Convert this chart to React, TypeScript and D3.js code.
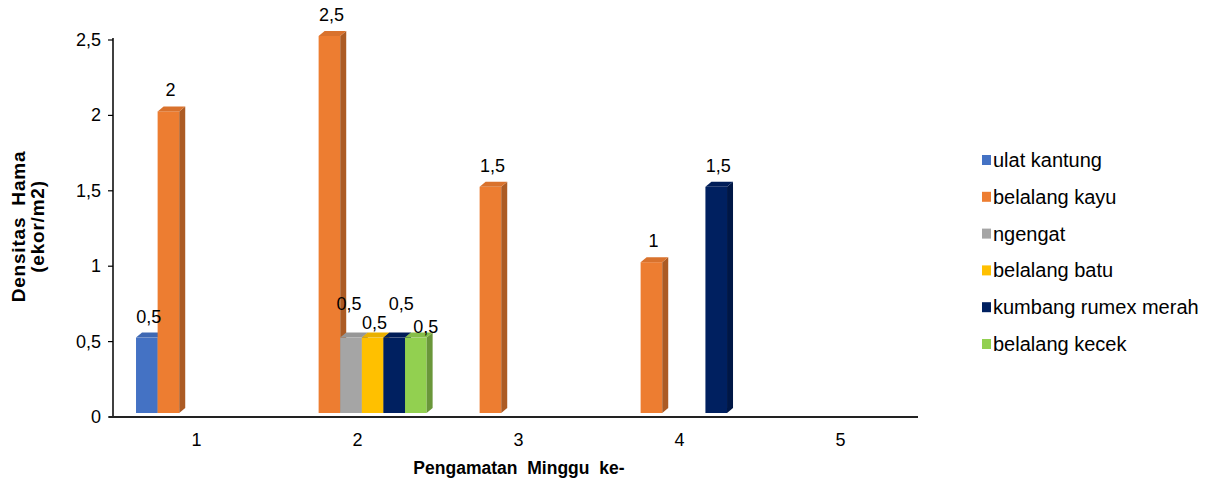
import React from "react";
import * as d3 from "d3";

const categories = ["1", "2", "3", "4", "5"];
const seriesNames = [
  "ulat kantung",
  "belalang kayu",
  "ngengat",
  "belalang batu",
  "kumbang rumex merah",
  "belalang kecek",
];
const ulatKantung = [0.5, 0, 0, 0, 0];
const belalangKayu = [2, 2.5, 1.5, 1, 0];
const ngengat = [0, 0.5, 0, 0, 0];
const belalangBatu = [0, 0.5, 0, 0, 0];
const kumbangRumexMerah = [0, 0.5, 0, 1.5, 0];
const belalangKecek = [0, 0.5, 0, 0, 0];
const seriesValues = [ulatKantung, belalangKayu, ngengat, belalangBatu, kumbangRumexMerah, belalangKecek];
const seriesColors = ["#4472C4", "#ED7D31", "#A5A5A5", "#FFC000", "#002060", "#92D050"];
const yTicks = [0, 0.5, 1, 1.5, 2, 2.5];
const yTickLabels = ["0", "0,5", "1", "1,5", "2", "2,5"];

// manual nudges for overlapping data labels [series, category, dx, dy]
const labelNudges: [number, number, number, number][] = [
  [2, 1, -4, -13],
  [3, 1, 0, 6],
  [4, 1, 5, -13],
  [5, 1, 8, 10],
];

const W = 1211;
const H = 482;
const left = 113;
const right = 918;
const top = 40;
const bottom = 417;
const depthX = 6;
const depthY = 5;
const wallLift = 4;
const FONT = "'Liberation Sans', Arial, sans-serif";

export default function App() {
  const x = d3.scaleBand<string>().domain(categories).range([left, right]).padding(0);
  const bw = x.bandwidth();
  const inner = d3
    .scaleBand<string>()
    .domain(seriesNames)
    .range([bw * 0.143, bw * 0.143 + 6 * 21.6])
    .padding(0);
  const y = d3.scaleLinear().domain([0, 2.5]).range([bottom, top]);

  const fmt = (v: number) => String(v).replace(".", ",");

  const bars: React.ReactNode[] = [];
  const labels: React.ReactNode[] = [];
  categories.forEach((c, ci) => {
    seriesNames.forEach((s, si) => {
      const v = seriesValues[si][ci];
      if (!v) return;
      const x0 = (x(c) as number) + (inner(s) as number);
      const w = inner.bandwidth();
      const yb = y(0) - wallLift;
      const yt = y(v) - wallLift;
      const col = d3.color(seriesColors[si])!;
      const side = d3.color(seriesColors[si])!.darker(0.9).formatHex();
      const topc = d3.color(seriesColors[si])!.darker(0.25).formatHex();
      bars.push(
        <g key={`b${ci}-${si}`}>
          <rect x={x0} y={yt} width={w} height={yb - yt} fill={col.formatHex()} />
          <polygon
            points={`${x0 + w},${yt} ${x0 + w + depthX},${yt - depthY} ${x0 + w + depthX},${yb - depthY} ${x0 + w},${yb}`}
            fill={side}
          />
          <polygon
            points={`${x0},${yt} ${x0 + depthX},${yt - depthY} ${x0 + w + depthX},${yt - depthY} ${x0 + w},${yt}`}
            fill={topc}
          />
        </g>
      );
      const n = labelNudges.find((d) => d[0] === si && d[1] === ci);
      const dx = n ? n[2] : 0;
      const dy = n ? n[3] : 0;
      labels.push(
        <text
          key={`l${ci}-${si}`}
          x={x0 + w / 2 + 2 + dx}
          y={yt - 15 + dy}
          textAnchor="middle"
          fontSize={18}
          fill="#000"
        >
          {fmt(v)}
        </text>
      );
    });
  });

  return (
    <svg width={W} height={H} style={{ position: "absolute", left: 0, top: 0, background: "#fff" }} fontFamily={FONT}>
      {/* y axis */}
      <line x1={left} x2={left} y1={top - 2} y2={bottom} stroke="#000" strokeWidth={1.5} />
      {yTicks.map((t, i) => (
        <g key={`yt${i}`}>
          <line x1={left - 5} x2={left} y1={y(t)} y2={y(t)} stroke="#000" strokeWidth={1.2} />
          <text x={left - 12} y={y(t) + 6} textAnchor="end" fontSize={18} fill="#000">
            {yTickLabels[i]}
          </text>
        </g>
      ))}
      {bars}
      {/* x axis */}
      <line x1={left - 4} x2={right} y1={bottom} y2={bottom} stroke="#222" strokeWidth={2} />
      {categories.map((c) => (
        <text key={`xc${c}`} x={(x(c) as number) + bw / 2 + 3} y={446} textAnchor="middle" fontSize={18} fill="#000">
          {c}
        </text>
      ))}
      {labels}
      {/* axis titles */}
      <text x={519} y={474} textAnchor="middle" fontSize={17.5} fontWeight="bold" wordSpacing={5} fill="#000">
        Pengamatan Minggu ke-
      </text>
      <g transform={`translate(25, ${(top + bottom) / 2 - 2}) rotate(-90)`}>
        <text x={0} y={0} textAnchor="middle" fontSize={19} fontWeight="bold" letterSpacing={0.8} wordSpacing={5} fill="#000">
          Densitas Hama
        </text>
        <text x={0} y={19} textAnchor="middle" fontSize={19} fontWeight="bold" letterSpacing={0.8} fill="#000">
          (ekor/m2)
        </text>
      </g>
      {/* legend */}
      {seriesNames.map((s, i) => (
        <g key={`lg${i}`} transform={`translate(982, ${160 + i * 36.8})`}>
          <rect x={0} y={-5} width={9} height={10} fill={seriesColors[i]} />
          <text x={11} y={7} fontSize={20} fill="#000">
            {s}
          </text>
        </g>
      ))}
    </svg>
  );
}
